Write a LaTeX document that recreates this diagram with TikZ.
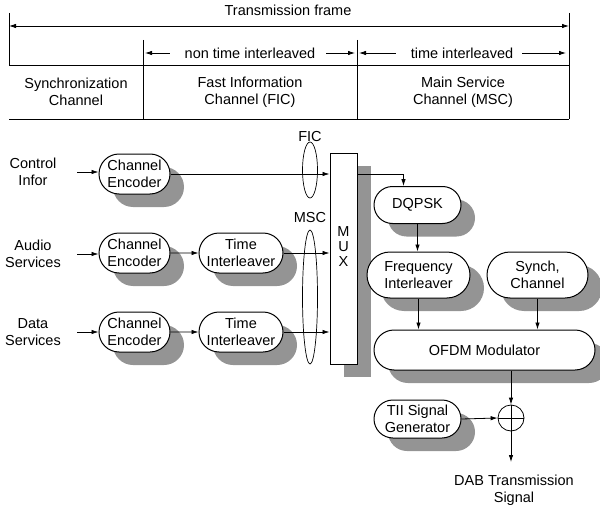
\documentclass[tikz,border=0pt]{standalone}
\usepackage{fontspec}
\setmainfont{Liberation Sans}
\usetikzlibrary{arrows.meta, positioning, calc, shadows, shapes.geometric, shapes.misc}

\begin{document}
\begin{tikzpicture}[x=1pt, y=-1pt,
      font=\fontsize{14.5}{17}\selectfont,
      blk/.style={rounded rectangle, draw, line width=1pt, fill=white,
                  align=center, minimum height=40pt, inner sep=2pt,
                  drop shadow={shadow xshift=14pt, shadow yshift=-13pt, fill=black!42, opacity=1}},
      muxbox/.style={rectangle, draw, line width=1pt, fill=white, align=center,
                  drop shadow={shadow xshift=14pt, shadow yshift=-13pt, fill=black!42, opacity=1}},
      arr/.style={-{Latex[length=7pt, width=4.5pt]}, line width=0.8pt},
      lbl/.style={align=center, inner sep=1pt},
      rule/.style={line width=0.8pt},
      ring/.style={ellipse, draw, line width=0.7pt, minimum width=15pt, inner sep=0pt},
    ]
    \useasboundingbox (0,0) rectangle (600,511);
    % frame table
    \coordinate (fl) at (9,26);
    \coordinate (fr) at (569,26);
    \coordinate (d1) at (143,53);
    \coordinate (d2) at (357,53);
    \coordinate (d3) at (569,53);
    \node[lbl] (frame) at (288,10) {Transmission frame};
    \draw[rule] (9,13) -- (9,65);
    \draw[rule] (569,13) -- (569,119);
    \draw[rule] (9,65) -- (569,65);
    \draw[rule] (9,119) -- (569,119);
    \draw[rule] (143,40) -- (143,119);
    \draw[rule] (357,40) -- (357,119);
    \draw[arr, {Latex[length=7pt, width=4.5pt]}-{Latex[length=7pt, width=4.5pt]}] (fl) -- (fr);
    \node[lbl] (nti) at (250,53) {non time interleaved};
    \node[lbl] (til) at (462,53) {time interleaved};
    \draw[arr, shorten <=14pt] (nti.west) -- ([xshift=2pt]d1);
    \draw[arr, shorten <=10pt] (nti.east) -- ([xshift=-2pt]d2);
    \draw[arr, shorten <=14pt] (til.west) -- ([xshift=2pt]d2);
    \draw[arr, shorten <=8pt] (til.east) -- ([xshift=-3pt]d3);
    \node[lbl] (sync) at (76,92) {Synchronization\\Channel};
    \node[lbl] (fic) at (250,92) {Fast Information\\Channel (FIC)};
    \node[lbl] (msc) at (463,92) {Main Service\\Channel (MSC)};

    % transmitter
    \node[lbl, text width=60pt] (ctrl) at (33,172) {Control\\Infor};
    \node[lbl, text width=60pt] (audio) at (33,254) {Audio\\Services};
    \node[lbl, text width=60pt] (data) at (33,332) {Data\\Services};
    \node[blk, minimum width=75pt] (enc1) at (134.5,174) {Channel\\Encoder};
    \node[blk, minimum width=75pt] (enc2) at (134.5,253) {Channel\\Encoder};
    \node[blk, minimum width=75pt] (enc3) at (134.5,332) {Channel\\Encoder};
    \node[blk, minimum width=88pt] (tint1) at (241,253) {Time\\Interleaver};
    \node[blk, minimum width=88pt] (tint2) at (241,332) {Time\\Interleaver};
    \node[muxbox, minimum width=27pt, minimum height=211pt, text depth=24pt,
          font=\fontsize{14.5}{15}\selectfont] (mux) at (343.5,258.5) {M\\U\\X};
    \node[ring, minimum height=56pt] (ficring) at (310,170) {};
    \node[ring, minimum height=134pt] (mscring) at (310,297) {};
    \node[lbl] (ficlbl) at (310,137) {FIC};
    \node[lbl] (msclbl) at (310,218) {MSC};
    \node[blk, minimum width=91pt, minimum height=37pt] (dqpsk) at (417.5,205) {DQPSK};
    \node[blk, minimum width=107pt, minimum height=46pt] (freq) at (418.5,275) {Frequency\\Interleaver};
    \node[blk, minimum width=105pt, minimum height=46pt] (synch) at (537.5,275) {Synch,\\Channel};
    \node[blk, minimum width=225pt] (ofdm) at (484.5,350) {OFDM Modulator};
    \node[blk, minimum width=91pt, minimum height=38pt] (tii) at (417.5,419) {TII Signal\\Generator};
    \node[circle, draw, line width=0.8pt, minimum size=26pt, inner sep=0pt] (sum) at (511,418) {};
    \draw[line width=0.8pt] (sum.north) -- (sum.south) (sum.west) -- (sum.east);
    \coordinate (out) at (511,462);
    \node[lbl] (dab) at (514,490) {DAB Transmission\\Signal};

    \draw[arr, shorten <=13pt] (ctrl.east) -- (enc1.west |- ctrl.east);
    \draw[arr, shorten <=13pt] (audio.east) -- (enc2.west |- audio.east);
    \draw[arr, shorten <=13pt] (data.east) -- (enc3.west |- data.east);
    \draw[arr] (enc1.east) -- (enc1.east -| mux.west);
    \draw[arr] (enc2) -- (tint1);
    \draw[arr] (enc3) -- (tint2);
    \draw[arr] (tint1.east) -- (tint1.east -| mux.west);
    \draw[arr] (tint2.east) -- (tint2.east -| mux.west);
    \draw[arr] (enc1.east -| mux.east) -| ([xshift=-14pt]dqpsk.north);
    \draw[arr] (dqpsk.south) -- (dqpsk.south |- freq.north);
    \draw[arr] (freq.south) -- (freq.south |- ofdm.north);
    \draw[arr] (synch.south) -- (synch.south |- ofdm.north);
    \draw[arr] (sum.north |- ofdm.south) -- (sum.north);
    \draw[arr] (tii.east) -- (sum.west);
    \draw[arr] (sum.south) -- (out);
  \end{tikzpicture}
\end{document}
